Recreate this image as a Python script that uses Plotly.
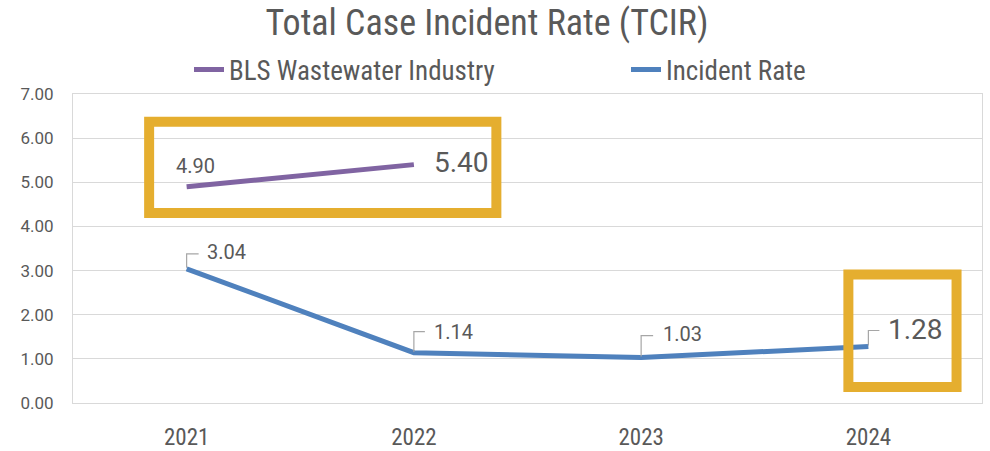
import plotly.graph_objects as go

years = ["2021", "2022", "2023", "2024"]
bls_values = [4.90, 5.40, None, None]
incident_values = [3.04, 1.14, 1.03, 1.28]
y_ticks = [0, 1, 2, 3, 4, 5, 6, 7]
y_tick_labels = ["0.00", "1.00", "2.00", "3.00", "4.00", "5.00", "6.00", "7.00"]

PURPLE = "#8064A2"
BLUE = "#4F81BD"
GOLD = "#E5AE2F"
TEXT = "#595959"
GRID = "#D9D9D9"
FONT = "Roboto Condensed, Roboto, sans-serif"
LABEL_FONT = "Roboto, sans-serif"

W, H = 990, 451

fig = go.Figure()
fig.add_trace(go.Scatter(x=years, y=bls_values, mode="lines", name="BLS Wastewater Industry",
                         line=dict(color=PURPLE, width=5), legend="legend", showlegend=True))
fig.add_trace(go.Scatter(x=years, y=incident_values, mode="lines", name="Incident Rate",
                         line=dict(color=BLUE, width=5), legend="legend2", showlegend=True))

annotations = []
annotations.append(dict(x=0, y=bls_values[0], xref="x", yref="y", text=f"{bls_values[0]:.2f}",
                        showarrow=False, xanchor="center", yanchor="middle", xshift=9, yshift=21,
                        font=dict(family=LABEL_FONT, size=20, color=TEXT)))
annotations.append(dict(x=1, y=bls_values[1], xref="x", yref="y", text=f"{bls_values[1]:.2f}",
                        showarrow=False, xanchor="left", yanchor="middle", xshift=18, yshift=2,
                        font=dict(family=LABEL_FONT, size=28, color=TEXT)))

shapes = []
# (index, bracket up px, bracket right px, label yshift)
leader = [(0, 15, 12, 17), (1, 21, 11, 21), (2, 22, 12, 24), (3, 16, 11, 17)]
for xi, up, right, ys in leader:
    v = incident_values[xi]
    big = xi == 3
    annotations.append(dict(x=xi, y=v, xref="x", yref="y", text=f"{v:.2f}",
                            showarrow=False, xanchor="left", yanchor="middle",
                            xshift=18 + (2 if xi == 2 else 0), yshift=ys,
                            font=dict(family=LABEL_FONT, size=28 if big else 20, color=TEXT)))
    shapes.append(dict(type="path", xref="x", yref="y", xsizemode="pixel", ysizemode="pixel",
                       xanchor=xi, yanchor=v,
                       path=f"M0,1 L0,{up} L{right},{up}",
                       line=dict(color="#A6A6A6", width=1.2)))

shapes.append(dict(type="rect", xref="x", yref="y", x0=-0.165, x1=1.363, y0=4.302, y1=6.372,
                   line=dict(color=GOLD, width=10), layer="above"))
shapes.append(dict(type="rect", xref="x", yref="y", x0=2.912, x1=3.388, y0=0.363, y1=2.912,
                   line=dict(color=GOLD, width=10), layer="above"))

legend_common = dict(orientation="h", xref="container", yref="container", xanchor="left",
                     yanchor="middle", y=1 - 70 / H, font=dict(family=FONT, size=27, color=TEXT),
                     bgcolor="rgba(0,0,0,0)")

fig.update_layout(
    width=W, height=H,
    showlegend=True,
    margin=dict(l=73, r=8, t=94, b=48, autoexpand=False),
    paper_bgcolor="white", plot_bgcolor="white",
    title=dict(text="Total Case Incident Rate (TCIR)", x=487 / W, xanchor="center", xref="container",
               y=1 - 22 / H, yanchor="middle", yref="container",
               font=dict(family=FONT, size=36, color=TEXT), automargin=False),
    legend=dict(x=189 / W, **legend_common),
    legend2=dict(x=626 / W, **legend_common),
    xaxis=dict(type="category", range=[-0.5, 3.5], showgrid=False, showline=True, linecolor=GRID,
               linewidth=1, mirror=True, tickfont=dict(family=FONT, size=23, color=TEXT),
               ticks="", ticklabelstandoff=13, zeroline=False, automargin=False),
    yaxis=dict(range=[0, 7], tickvals=y_ticks, ticktext=y_tick_labels, showgrid=True, gridcolor=GRID,
               gridwidth=1, showline=True, linecolor=GRID, linewidth=1, mirror=True, zeroline=False,
               tickfont=dict(family=LABEL_FONT, size=17, color=TEXT), ticks="", ticklabelstandoff=15,
               automargin=False),
    annotations=annotations,
    shapes=shapes,
)

fig.write_html("out.html", config={"displayModeBar": False},
               post_script="document.body.style.margin='0px';document.body.style.overflow='hidden';")
